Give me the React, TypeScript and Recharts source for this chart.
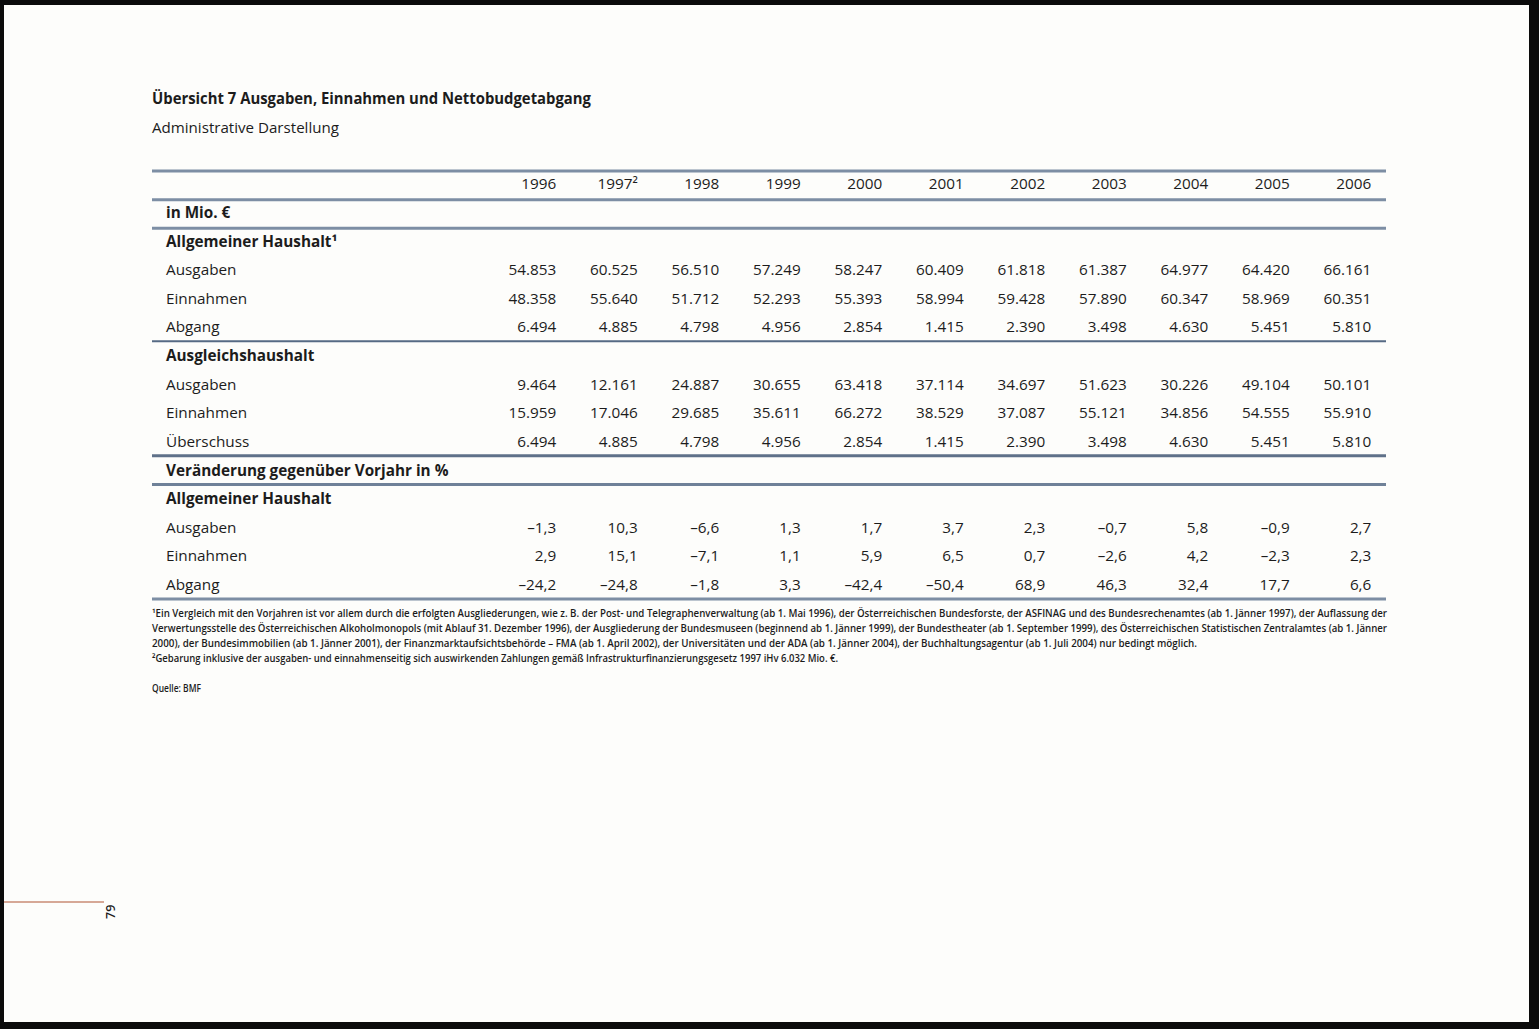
import React from "react";
import { ScatterChart, Scatter, XAxis, YAxis, ReferenceLine } from "recharts";

// column headers (years) and row labels of the table
const years = ["1996", "1997²", "1998", "1999", "2000", "2001", "2002", "2003", "2004", "2005", "2006"];
const rowLabels = [
	"in Mio. €",
	"Allgemeiner Haushalt¹",
	"Ausgaben",
	"Einnahmen",
	"Abgang",
	"Ausgleichshaushalt",
	"Ausgaben",
	"Einnahmen",
	"Überschuss",
	"Veränderung gegenüber Vorjahr in %",
	"Allgemeiner Haushalt",
	"Ausgaben",
	"Einnahmen",
	"Abgang",
];
const boldLabels = [0, 1, 5, 9, 10];

// values in Mio. €
const allgAusgaben = [54853, 60525, 56510, 57249, 58247, 60409, 61818, 61387, 64977, 64420, 66161];
const allgEinnahmen = [48358, 55640, 51712, 52293, 55393, 58994, 59428, 57890, 60347, 58969, 60351];
const allgAbgang = [6494, 4885, 4798, 4956, 2854, 1415, 2390, 3498, 4630, 5451, 5810];
const ausglAusgaben = [9464, 12161, 24887, 30655, 63418, 37114, 34697, 51623, 30226, 49104, 50101];
const ausglEinnahmen = [15959, 17046, 29685, 35611, 66272, 38529, 37087, 55121, 34856, 54555, 55910];
const ausglUeberschuss = [6494, 4885, 4798, 4956, 2854, 1415, 2390, 3498, 4630, 5451, 5810];
// change on previous year in %
const pctAusgaben = [-1.3, 10.3, -6.6, 1.3, 1.7, 3.7, 2.3, -0.7, 5.8, -0.9, 2.7];
const pctEinnahmen = [2.9, 15.1, -7.1, 1.1, 5.9, 6.5, 0.7, -2.6, 4.2, -2.3, 2.3];
const pctAbgang = [-24.2, -24.8, -1.8, 3.3, -42.4, -50.4, 68.9, 46.3, 32.4, 17.7, 6.6];

const footnotes = [
	"¹Ein Vergleich mit den Vorjahren ist vor allem durch die erfolgten Ausgliederungen, wie z. B. der Post- und Telegraphenverwaltung (ab 1. Mai 1996), der Österreichischen  Bundesforste, der ASFINAG  und des Bundesrechenamtes (ab 1. Jänner 1997), der Auflassung der",
	"Verwertungsstelle des Österreichischen Alkoholmonopols (mit Ablauf  31. Dezember 1996), der Ausgliederung der Bundesmuseen (beginnend ab 1. Jänner 1999), der Bundestheater (ab 1. September 1999), des Österreichischen Statistischen Zentralamtes (ab 1. Jänner",
	"2000), der Bundesimmobilien (ab 1. Jänner 2001), der Finanzmarktaufsichtsbehörde – FMA (ab 1. April 2002), der Universitäten und der ADA (ab 1. Jänner 2004), der Buchhaltungsagentur (ab 1. Juli 2004) nur bedingt möglich.",
	"²Gebarung inklusive der ausgaben- und einnahmenseitig sich auswirkenden Zahlungen gemäß Infrastrukturfinanzierungsgesetz 1997 iHv 6.032 Mio. €.",
];
const footnoteWidths = [1235, 1235, 1045, 686];

const FONT = "'Open Sans', sans-serif";
const INK = "#1c1c1c";
const X_MIN = -4.96;
const X_MAX = 10.18;

const fmtAbs = (n: number) => n.toString().replace(/\B(?=(\d{3})+(?!\d))/g, ".");
const fmtPct = (n: number) => (n < 0 ? "–" : "") + Math.abs(n).toFixed(1).replace(".", ",");

const valueRows = [
	{ row: 3, values: allgAusgaben, fmt: fmtAbs },
	{ row: 4, values: allgEinnahmen, fmt: fmtAbs },
	{ row: 5, values: allgAbgang, fmt: fmtAbs },
	{ row: 7, values: ausglAusgaben, fmt: fmtAbs },
	{ row: 8, values: ausglEinnahmen, fmt: fmtAbs },
	{ row: 9, values: ausglUeberschuss, fmt: fmtAbs },
	{ row: 12, values: pctAusgaben, fmt: fmtPct },
	{ row: 13, values: pctEinnahmen, fmt: fmtPct },
	{ row: 14, values: pctAbgang, fmt: fmtPct },
];

const headerCells = years.map((y, i) => ({ col: i, row: 0, text: y }));
const valueCells = valueRows.flatMap((r) =>
	r.values.map((v, i) => ({ col: i, row: r.row, text: r.fmt(v) })),
);
const labelCells = rowLabels.map((l, i) => ({
	col: X_MIN,
	row: i + 1,
	text: l,
	bold: boldLabels.includes(i),
}));

const rules = [
	{ y: -0.45, w: 3, c: "#7d8ea4" },
	{ y: 0.55, w: 3, c: "#7d8ea4" },
	{ y: 1.55, w: 3, c: "#7d8ea4" },
	{ y: 5.5, w: 2, c: "#566a84" },
	{ y: 9.5, w: 3, c: "#5f7189" },
	{ y: 10.5, w: 3, c: "#6f8198" },
	{ y: 14.5, w: 3, c: "#7d8ea4" },
];

const ValueCell = (props: any) => {
	const { cx, cy, payload } = props;
	return (
		<text x={cx} y={cy} dy={5.4} textAnchor="end" fontFamily={FONT} fontSize={15.3} fill={INK}>
			{payload.text}
		</text>
	);
};

const LabelCell = (props: any) => {
	const { cx, cy, payload } = props;
	return (
		<text
			x={cx + 14}
			y={cy}
			dy={5.4}
			textAnchor="start"
			fontFamily={FONT}
			fontSize={15.3}
			fontWeight={payload.bold ? 700 : 400}
			fill={INK}
		>
			{payload.text}
		</text>
	);
};

const App = () => {
	return (
		<div style={{ position: "relative", width: 1539, height: 1029, background: "#0b0b0b", overflow: "hidden" }}>
			<style>{`body{margin:0}`}</style>
			<div style={{ position: "absolute", left: 4, top: 5, width: 1525, height: 1017, background: "#fdfdfb" }} />
			<div style={{ position: "absolute", left: 0, top: 0 }}>
				<ScatterChart
					width={1539}
					height={1029}
					margin={{ top: 171, right: 153, bottom: 430, left: 152 }}
				>
					<XAxis type="number" dataKey="col" domain={[X_MIN, X_MAX]} allowDataOverflow hide />
					<YAxis type="number" dataKey="row" domain={[-0.45, 14.5]} allowDataOverflow reversed hide />
					{rules.map((r) => (
						<ReferenceLine key={r.y} y={r.y} stroke={r.c} strokeWidth={r.w} ifOverflow="visible" />
					))}
					<Scatter data={headerCells} shape={ValueCell} isAnimationActive={false} />
					<Scatter data={valueCells} shape={ValueCell} isAnimationActive={false} />
					<Scatter data={labelCells} shape={LabelCell} isAnimationActive={false} />
				</ScatterChart>
			</div>
			<svg
				width={1539}
				height={1029}
				style={{ position: "absolute", left: 0, top: 0, pointerEvents: "none" }}
			>
				<text x={152} y={104} fontFamily={FONT} fontSize={16.5} fontWeight={700} fill={INK} textLength={439} lengthAdjust="spacingAndGlyphs">
					Übersicht 7 Ausgaben, Einnahmen und Nettobudgetabgang
				</text>
				<text x={152} y={133} fontFamily={FONT} fontSize={15.3} fill={INK} textLength={187} lengthAdjust="spacingAndGlyphs">
					Administrative Darstellung
				</text>
				{footnotes.map((f, i) => (
					<text
						key={i}
						x={152}
						y={617 + i * 15}
						fontFamily={FONT}
						fontSize={10}
						fontWeight={600}
						fill={INK}
						textLength={footnoteWidths[i]}
						lengthAdjust="spacingAndGlyphs"
					>
						{f}
					</text>
				))}
				<text x={152} y={692} fontFamily={FONT} fontSize={10} fontWeight={600} fill={INK} textLength={49} lengthAdjust="spacingAndGlyphs">
					Quelle: BMF
				</text>
				<line x1={4} y1={902} x2={104} y2={902} stroke="#c98b74" strokeWidth={1.5} />
				<text
					x={115}
					y={919}
					transform="rotate(-90 115 919)"
					fontFamily={FONT}
					fontSize={12.5}
					fontWeight={600}
					fill={INK}
				>
					79
				</text>
			</svg>
		</div>
	);
};

export default App;
